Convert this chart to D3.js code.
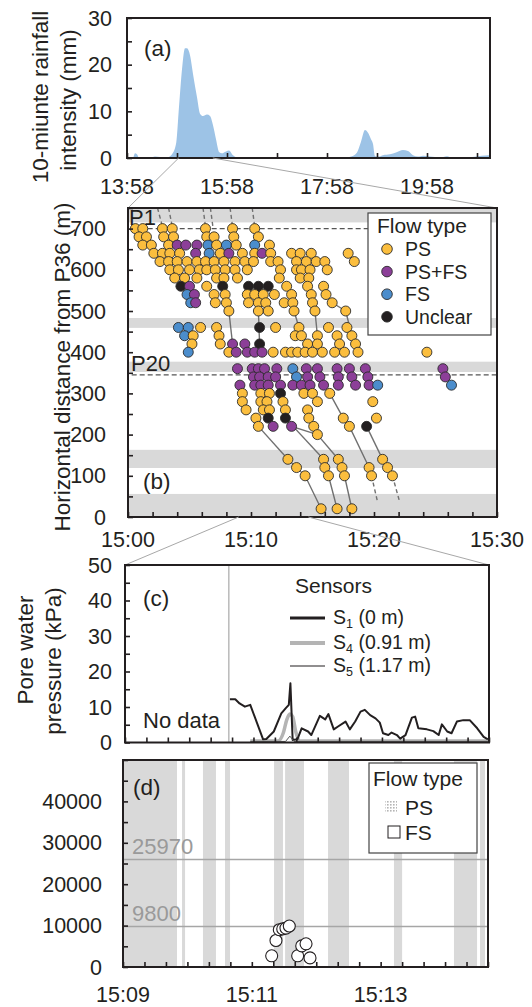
<!DOCTYPE html>
<html><head><meta charset="utf-8">
<script src="https://cdn.jsdelivr.net/npm/d3@7"></script>
<style>
body{margin:0;background:#fff;}
svg{display:block;font-family:"Liberation Sans",Arial,sans-serif;}
</style></head><body>
<svg id="chart" width="532" height="1007"></svg>
<script>
// ---------- (a) rainfall ----------
const rainTime = [0,7.2,9.6,12,14.4,27.6,33.6,39.6,49.2,54,58.8,62.4,66,69.6,72,75.6,79.2,84,87.6,91.2,96,99.6,103.2,106.8,110.4,114,118.8,122.4,127.2,132,135.6,207.6,213.6,225.6,231.6,261.6,270,276,280.8,285.6,289.2,292.8,295.2,297.6,302.4,307.2,315.6,322.8,331.2,337.2,343.2,349.2,355.2,363.6,375.6,384,390,399.6,434.4,435.6]; // minutes after 13:58
const rainValue = [0,0,1.0,0.8,0,0,0.3,0.2,0.2,0.8,3,11,19,23.5,23.5,22,18,13,9.5,9,9.3,9,7,4,1.3,1.0,1.4,1.6,0.6,0.1,0,0,0.2,0.1,0,0.1,0.4,1.2,3.5,6.0,5.4,4,3,0.4,0.3,0.6,0.8,1.2,1.7,1.5,0.6,0.3,0.5,0.3,0.1,0.4,0.1,0,0.6,0.6];
const rainTickLabels = ["13:58","15:58","17:58","19:58"];
const aZoomWindow = [62, 103];

// ---------- (b) flow observations (minutes after 15:00, metres from P36) ----------
const flowTypes = ["PS","PS+FS","FS","Unclear"];
const flowCodes = ["Y","P","B","K"];
const flowColors = ["#fbbe3e","#8c3f98","#4b8dcc","#231f20"];
const flowRows = [
 {d:700,t:[0.6,1.2,2.8,3.6,6.3,8.5,10.3],f:"YYYYYYY"},
 {d:680,t:[0.9,1.5,2.9,3.7,6.4,7.0,8.6,10.6],f:"YYYYYYYY"},
 {d:660,t:[1.2,1.9,3.3,4.0,4.7,5.6,6.5,7.2,8.0,8.8,10.3,11.5],f:"YYYPPPBYBYBY"},
 {d:640,t:[2.1,2.8,3.4,4.2,5.5,6.6,7.5,8.2,9.3,10.3,10.9,11.6,13.3,14.0,14.9,17.9],f:"YYYYPBYPYYPYYYYY"},
 {d:620,t:[2.6,3.3,4.0,4.8,5.6,6.3,7.0,7.8,8.7,9.5,10.2,11.6,12.2,13.7,14.5,15.3,16.0,18.4],f:"YYYYYYYYYYYYYYYYYY"},
 {d:600,t:[3.4,4.1,5.0,5.8,6.4,7.1,7.9,8.7,9.7,12.4,13.7,14.1,14.8,16.2],f:"YYYYYYYYYYYYYY"},
 {d:580,t:[3.8,4.6,5.6,7.2,7.8,8.9,12.3,14.0,14.7],f:"YYYYYYYYY"},
 {d:560,t:[4.3,5.0,6.4,7.7,9.8,10.6,11.4,12.9,14.6,15.9],f:"KPYKKKKYYY"},
 {d:540,t:[4.8,5.4,7.0,7.9,9.7,10.3,11.0,11.9,13.3,14.9,16.1],f:"BPYYYYYYYYY"},
 {d:520,t:[5.1,5.5,7.1,8.0,9.8,10.6,11.2,12.7,13.4,15.0,16.6],f:"BPYYYYYYYYY"},
 {d:500,t:[8.2,10.6,11.4,13.5,15.2,17.7],f:"YYYYYY"},
 {d:460,t:[4.1,4.9,5.9,7.2,10.7,12.0,13.9,16.3,17.8],f:"BBYYKYYYY"},
 {d:440,t:[4.6,5.3,7.4,13.6,14.1,15.4,17.0,18.2],f:"BYYYYYYY"},
 {d:420,t:[5.2,7.5,8.5,9.5,10.7,14.6,15.4,17.2,18.5],f:"YYPPKYYYY"},
 {d:400,t:[4.9,8.2,8.8,9.7,10.3,10.9,11.8,12.8,13.3,13.8,14.4,15.0,15.8,16.8,17.6,18.7,24.3],f:"BYPPPPYYYYYYYYYYY"},
 {d:360,t:[8.9,10.1,10.6,11.1,12.1,13.4,14.5,15.4,17.0,18.0,19.3,25.6],f:"PPPPPBPPPPPP"},
 {d:340,t:[10.2,10.7,11.4,12.0,13.7,14.6,15.6,17.1,18.2,19.5,25.8],f:"PPPPBPPPPPP"},
 {d:320,t:[9.1,10.3,10.8,11.4,12.4,13.4,14.1,14.8,15.9,17.1,18.5,19.6,20.3,26.3],f:"PPPPPPPPPPPPBB"},
 {d:300,t:[9.3,10.8,11.5,12.4,14.3,15.0,16.4],f:"YYYKYYY"},
 {d:280,t:[9.3,10.8,11.3,12.6,15.4,19.9],f:"YYYYYY"},
 {d:260,t:[9.6,11.0,11.5,12.8,14.6],f:"YYYYY"},
 {d:240,t:[10.4,11.4,12.8,14.7,17.5,20.2],f:"YKKYYY"},
 {d:220,t:[10.6,11.8,13.3,15.1,18.0,19.4],f:"YPPYYK"},
 {d:200,t:[15.4],f:"Y"},
 {d:140,t:[13.0,15.9,17.1,20.7],f:"YYYY"},
 {d:120,t:[13.7,16.0,17.4,19.6,21.1],f:"YYYYY"},
 {d:100,t:[14.4,16.3,17.6,19.8,21.5],f:"YYYYY"},
 {d:20,t:[15.7,17.0,18.2],f:"YYY"}
];
const trackLines = [
 [[8.2,500],[8.5,420]], [[10.6,500],[10.7,420]], [[13.5,500],[13.9,460]],
 [[15.2,500],[15.4,440]], [[16.6,520],[17.7,500],[18.2,440]],
 [[17.9,640],[18.4,620]],
 [[10.6,220],[13.0,140]], [[13.3,220],[15.4,200]], [[12.8,240],[15.9,140]],
 [[15.4,200],[17.1,140]], [[16.4,300],[17.5,240],[18.0,220],[19.6,120]],
 [[19.4,220],[20.7,140]],
 [[13.0,140],[13.7,120],[14.4,100],[15.7,20]],
 [[15.9,140],[16.0,120],[16.3,100],[17.0,20]],
 [[17.1,140],[17.4,120],[17.6,100],[18.2,20]],
 [[20.7,140],[21.1,120],[21.5,100]], [[19.6,120],[19.8,100]]
];
const dashedTracks = [
 [[19.8,100],[20.3,35]], [[21.5,100],[22.1,35]],
 [[2.4,750],[2.8,705]], [[3.3,750],[3.6,705]], [[6.1,750],[6.3,705]],
 [[6.7,750],[6.9,705]], [[8.3,750],[8.5,705]], [[10.1,750],[10.3,705]]
];
const grayBandsB = [[0,56],[119,163],[352,377],[459,483],[715,750]];
const refLevels = [{name:"P1", d:700, from:1.6, to:19.5},{name:"P20", d:345, from:0.3, to:30}];
const bTickLabels = ["15:00","15:10","15:20","15:30"];
const cZoomWindow = [9, 14.667];

// ---------- (c) pore water pressure (seconds after 15:09:00, kPa) ----------
const noDataEnd = 97;
const s1Time = [98,103,107,112,117,129,132,139,146,150,153,154.5,156.6,161,165,171,174,182,187,190,195,199,206,210,215,220,224,229,234,238,241,246,249,254,257,262,268,271,274,282,288,293,296,301,305,310,316,322,329,335,339];
const s1Value = [12.2,12.2,11.0,10.1,10.6,0.9,1.0,3.1,8.2,9.6,10.6,16.7,0.7,0.9,4.0,3.1,2.1,7.5,6.5,8.0,3.7,4.5,5.9,3.7,5.9,8.7,9.2,7.7,6.8,5.6,2.6,2.1,2.8,2.1,1.1,2.1,7.0,7.3,4.0,3.7,3.2,2.1,5.1,3.1,2.6,5.9,6.3,6.3,4.0,1.6,0.9];
const s4Time = [117,143,148,151,154,156.6,159.7,163.5,339];
const s4Value = [0.4,0.4,2.8,6.3,8.0,7.3,2.8,0.4,0.4];
const s5Time = [117,150,154,158,339];
const s5Value = [0.3,0.3,1.8,0.3,0.3];
const sensorNames = [["S","1"," (0 m)"],["S","4"," (0.91 m)"],["S","5"," (1.17 m)"]];

// ---------- (d) ----------
const psBands = [[0,50.3],[55,57.8],[74.5,86.6],[95,99.7],[140.7,149],[151,168.6],[191,210.5],[252.4,260],[308.3,329.8],[332.6,337.2]];
const fsTime = [138.5,142.5,145.6,148.8,151.8,154.9,162.7,166.5,170.5,174.2];
const fsValue = [2700,6400,9000,9200,9400,9900,2700,5100,5600,2200];
const thresholds = [25970, 9800];
const dTickLabels = ["15:09","15:11","15:13"];

// ================= drawing =================
const svg = d3.select("#chart");
const INK = "#231f20", FS = 21.5;
const defs = svg.append("defs");
const pat = defs.append("pattern").attr("id","stip").attr("width",3).attr("height",3).attr("patternUnits","userSpaceOnUse");
pat.append("rect").attr("width",1.6).attr("height",1.6).attr("fill","#b5b5b5");

function text(x,y,s,opt={}){
  return svg.append("text").attr("x",x).attr("y",y).text(s)
    .attr("font-size",opt.size||FS).attr("fill",opt.fill||INK)
    .attr("text-anchor",opt.anchor||"start");
}
function vtitle(cx,cy,s,size){
  svg.append("text").attr("transform",`translate(${cx},${cy}) rotate(-90)`)
    .attr("text-anchor","middle").attr("font-size",size).attr("fill",INK).text(s);
}
function frame(P){
  svg.append("rect").attr("x",P.l).attr("y",P.t).attr("width",P.r-P.l).attr("height",P.b-P.t)
    .attr("fill","none").attr("stroke",INK).attr("stroke-width",2);
}
function xticks(scale,vals,y){
  const g = svg.append("g").attr("transform",`translate(0,${y})`)
    .call(d3.axisBottom(scale).tickValues(vals).tickSize(-5).tickFormat(""));
  g.select(".domain").remove();
  g.selectAll("line").attr("stroke",INK).attr("stroke-width",1.6);
}
function yticks(scale,vals,x){
  const g = svg.append("g").attr("transform",`translate(${x},0)`)
    .call(d3.axisLeft(scale).tickValues(vals).tickSize(-5).tickFormat(""));
  g.select(".domain").remove();
  g.selectAll("line").attr("stroke",INK).attr("stroke-width",1.6);
}
function ylabels(scale,vals,xr){
  vals.forEach(v=>text(xr,scale(v)+7.5,String(v),{anchor:"end"}));
}
function connector(x1,y1,x2,y2){
  svg.append("line").attr("x1",x1).attr("y1",y1).attr("x2",x2).attr("y2",y2)
    .attr("stroke","#a8a8a8").attr("stroke-width",1);
}

// ---- panel (a)
const A = {l:127,r:490,t:18,b:158};
const xA = d3.scaleLinear().domain([0,435.6]).range([A.l,A.r]);
const yA = d3.scaleLinear().domain([0,30]).range([A.b,A.t]);
svg.append("path").datum(rainTime.map((t,i)=>[t,rainValue[i]]))
  .attr("fill","#9dc3e6")
  .attr("d",d3.area().x(d=>xA(d[0])).y0(yA(0)).y1(d=>yA(d[1])).curve(d3.curveMonotoneX));
frame(A);
xticks(xA,d3.range(0,436,60),A.b);
yticks(yA,d3.range(0,31,5),A.l);
ylabels(yA,[0,10,20,30],112);
rainTickLabels.forEach((s,i)=>text(xA(i*120),A.b+36,s,{anchor:"middle"}));
text(144,56,"(a)",{size:22.5});
vtitle(48,97,"10-miunte rainfall",22.5);
vtitle(76,100,"intensity (mm)",22.5);

// ---- panel (b)
const B = {l:128,r:497,t:208,b:517};
const xB = d3.scaleLinear().domain([0,30]).range([B.l,B.r]);
const yB = d3.scaleLinear().domain([0,750]).range([B.b,B.t]);
connector(xA(aZoomWindow[0]),A.b,B.l,B.t);
connector(xA(aZoomWindow[1]),A.b,B.r,B.t);
svg.append("g").selectAll("rect").data(grayBandsB).join("rect")
  .attr("x",B.l).attr("width",B.r-B.l)
  .attr("y",d=>yB(d[1])).attr("height",d=>yB(d[0])-yB(d[1])).attr("fill","#d9d9d9");
refLevels.forEach(r=>{
  svg.append("line").attr("x1",xB(r.from)).attr("x2",xB(r.to)).attr("y1",yB(r.d)).attr("y2",yB(r.d))
    .attr("stroke","#555").attr("stroke-width",1.2).attr("stroke-dasharray","5,3");
});
const lineB = d3.line().x(d=>xB(d[0])).y(d=>yB(d[1]));
svg.append("g").selectAll("path").data(trackLines).join("path")
  .attr("d",lineB).attr("fill","none").attr("stroke","#707070").attr("stroke-width",1.4);
svg.append("g").selectAll("path").data(dashedTracks).join("path")
  .attr("d",lineB).attr("fill","none").attr("stroke","#707070").attr("stroke-width",1.4).attr("stroke-dasharray","4,3");
const flowPts = [];
flowRows.forEach(r=>r.t.forEach((t,i)=>flowPts.push({t, d:r.d, k:flowCodes.indexOf(r.f[i]||"Y")})));
svg.append("g").selectAll("circle").data(flowPts).join("circle")
  .attr("cx",p=>xB(p.t)).attr("cy",p=>yB(p.d)).attr("r",5)
  .attr("fill",p=>flowColors[p.k]).attr("stroke","#2b2b2b").attr("stroke-width",0.9);
text(129,225,"P1",{size:22});
text(131,371,"P20",{size:22});
text(143,489,"(b)",{size:22.5});
// legend (b)
svg.append("rect").attr("x",368).attr("y",213).attr("width",123).attr("height",122)
  .attr("fill","#fff").attr("stroke","#444").attr("stroke-width",1.2);
text(377,233,"Flow type",{size:21});
flowTypes.forEach((s,i)=>{
  const y = 249 + i*22.6;
  svg.append("circle").attr("cx",387).attr("cy",y).attr("r",5.3)
    .attr("fill",flowColors[i]).attr("stroke","#2b2b2b").attr("stroke-width",0.9);
  text(405,y+7,s,{size:19.5});
});
frame(B);
xticks(xB,d3.range(0,31,2),B.b);
yticks(yB,d3.range(0,751,50),B.l);
ylabels(yB,d3.range(0,701,100),106);
bTickLabels.forEach((s,i)=>text(xB(i*10),B.b+30,s,{anchor:"middle"}));
vtitle(70,367,"Horizontal distance from P36 (m)",22.5);

// ---- panel (c)
const C = {l:125,r:489,t:565,b:742.5};
const xC = d3.scaleLinear().domain([0,340]).range([C.l,C.r]);
const yC = d3.scaleLinear().domain([0,50]).range([C.b,C.t]);
connector(xB(cZoomWindow[0]),B.b,C.l,C.t);
connector(xB(cZoomWindow[1]),B.b,C.r,C.t);
svg.append("line").attr("x1",xC(noDataEnd)).attr("x2",xC(noDataEnd)).attr("y1",C.t).attr("y2",C.b)
  .attr("stroke","#a8a8a8").attr("stroke-width",1.2);
const lineC = d3.line().x(d=>xC(d[0])).y(d=>yC(d[1]));
svg.append("path").datum(s4Time.map((t,i)=>[t,s4Value[i]])).attr("d",lineC.curve(d3.curveMonotoneX))
  .attr("fill","none").attr("stroke","#b4b4b4").attr("stroke-width",3.5);
svg.append("path").datum(s1Time.map((t,i)=>[t,s1Value[i]])).attr("d",lineC.curve(d3.curveLinear))
  .attr("fill","none").attr("stroke",INK).attr("stroke-width",2).attr("stroke-linejoin","round");
svg.append("path").datum(s5Time.map((t,i)=>[t,s5Value[i]])).attr("d",lineC)
  .attr("fill","none").attr("stroke","#555").attr("stroke-width",1);
frame(C);
xticks(xC,d3.range(0,341,20),C.b);
yticks(yC,d3.range(0,51,5),C.l);
ylabels(yC,[0,10,20,30,40,50],112);
text(143,606,"(c)",{size:22.5});
text(143,728,"No data",{size:22});
text(295,593,"Sensors",{size:21});
const legStyles = [{c:INK,w:3},{c:"#b4b4b4",w:4},{c:INK,w:1.2}];
sensorNames.forEach((n,i)=>{
  const y = [618,643,666][i];
  svg.append("line").attr("x1",290).attr("x2",325).attr("y1",y).attr("y2",y)
    .attr("stroke",legStyles[i].c).attr("stroke-width",legStyles[i].w);
  const t = svg.append("text").attr("x",333).attr("y",y+6).attr("font-size",19.5).attr("fill",INK);
  t.append("tspan").text(n[0]);
  t.append("tspan").attr("font-size",12.5).attr("dy",4).text(n[1]);
  t.append("tspan").attr("dy",-4).text(n[2]);
});
vtitle(33,650,"Pore water",22.5);
vtitle(61,661,"pressure (kPa)",22.5);

// ---- panel (d)
const D = {l:123,r:488,t:760,b:967};
const xD = d3.scaleLinear().domain([0,340]).range([D.l,D.r]);
const yD = d3.scaleLinear().domain([0,50000]).range([D.b,D.t]);
svg.append("g").selectAll("rect").data(psBands).join("rect")
  .attr("x",d=>xD(d[0])).attr("width",d=>xD(d[1])-xD(d[0]))
  .attr("y",D.t).attr("height",D.b-D.t).attr("fill","#d9d9d9");
thresholds.forEach(v=>{
  svg.append("line").attr("x1",D.l).attr("x2",D.r).attr("y1",yD(v)).attr("y2",yD(v))
    .attr("stroke","#a6a6a6").attr("stroke-width",1.6);
  text(132,yD(v)-5,String(v),{size:22,fill:"#9a9a9a"});
});
svg.append("g").selectAll("circle").data(fsTime.map((t,i)=>[t,fsValue[i]])).join("circle")
  .attr("cx",d=>xD(d[0])).attr("cy",d=>yD(d[1])).attr("r",6)
  .attr("fill","#fff").attr("stroke",INK).attr("stroke-width",1.1);
text(133,795,"(d)",{size:22.5});
svg.append("rect").attr("x",369).attr("y",763).attr("width",108).attr("height",90)
  .attr("fill","#fff").attr("stroke","#444").attr("stroke-width",1.2);
text(373,786,"Flow type",{size:21});
svg.append("rect").attr("x",385).attr("y",800).attr("width",12).attr("height",12).attr("fill","url(#stip)");
text(405,815,"PS",{size:21});
svg.append("rect").attr("x",388).attr("y",826).attr("width",12).attr("height",12)
  .attr("fill","#fff").attr("stroke",INK).attr("stroke-width",1);
text(405,840,"FS",{size:21});
frame(D);
xticks(xD,d3.range(0,341,20),D.b);
yticks(yD,d3.range(0,50001,5000),D.l);
ylabels(yD,[0,10000,20000,30000,40000],102);
dTickLabels.forEach((s,i)=>text(xD(i*120),D.b+35,s,{anchor:"middle"}));
</script>
</body></html>
